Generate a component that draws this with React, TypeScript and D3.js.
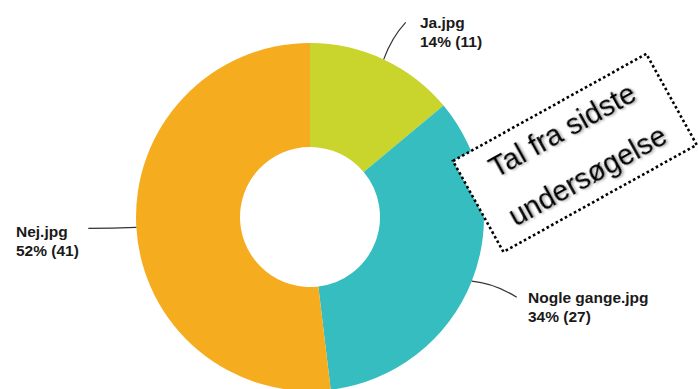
import React from "react";
import * as d3 from "d3";

const categories = ["Ja.jpg", "Nogle gange.jpg", "Nej.jpg"];
const counts = [11, 27, 41];
const percents = [14, 34, 52];
const colors = ["#C9D42C", "#35BDBF", "#F5AC1F"];
const noteLines = ["Tal fra sidste", "undersøgelse"];

const W = 698;
const H = 389;
const cx = 310;
const cy = 217;
const outerR = 174;
const innerR = 70;

// label layout: [end offset of leader from arc point, control offset, text x, text first baseline]
const labelLayout = [
  { end: [22, -37], ctrl: [8, -22], tx: 420, ty: 28 },
  { end: [45, 16], ctrl: [22, 2], tx: 528, ty: 303 },
  { end: [-48, 1], ctrl: [-24, 1], tx: 16, ty: 237 },
];

export default function App() {
  const data = categories.map((c, i) => ({ c, v: counts[i], p: percents[i], i }));
  const pie = d3
    .pie<any>()
    .sort(null)
    .value((d: any) => d.v)
    .startAngle(0)
    .endAngle(2 * Math.PI);
  const arcs = pie(data);
  const arcGen = d3.arc<any>().innerRadius(innerR).outerRadius(outerR);

  return (
    <svg
      width={W}
      height={H}
      style={{ position: "absolute", left: 0, top: 0, background: "#fff" }}
      fontFamily="'Liberation Sans', Arial, sans-serif"
    >
      <defs>
        <filter id="shadow" x="-10%" y="-10%" width="130%" height="130%">
          <feDropShadow dx="1.5" dy="1.5" stdDeviation="0.8" floodColor="#000" floodOpacity="0.35" />
        </filter>
      </defs>
      <g transform={`translate(${cx},${cy})`}>
        {arcs.map((a, i) => (
          <path key={i} d={arcGen(a) as string} fill={colors[i]} />
        ))}
      </g>
      {arcs.map((a, i) => {
        const mid = (a.startAngle + a.endAngle) / 2;
        const sx = cx + outerR * Math.sin(mid);
        const sy = cy - outerR * Math.cos(mid);
        const L = labelLayout[i];
        const ex = sx + L.end[0];
        const ey = sy + L.end[1];
        const qx = sx + L.ctrl[0];
        const qy = sy + L.ctrl[1];
        return (
          <g key={i}>
            <path
              d={`M${sx},${sy} Q${qx},${qy} ${ex},${ey}`}
              fill="none"
              stroke="#333"
              strokeWidth={1.2}
            />
            <text x={L.tx} y={L.ty} fontSize={15.5} fontWeight="bold" fill="#1a1a1a">
              {a.data.c}
            </text>
            <text x={L.tx} y={L.ty + 19} fontSize={15.5} fontWeight="bold" fill="#1a1a1a">
              {`${a.data.p}% (${a.data.v})`}
            </text>
          </g>
        );
      })}
      <g transform="translate(453,161) rotate(-29)">
        <rect
          x={0}
          y={0}
          width={221}
          height={104}
          fill="#fff"
          stroke="#000"
          strokeWidth={2.6}
          strokeDasharray="2.6 2.6"
        />
        {noteLines.map((t, i) => (
          <text
            key={i}
            x={110.5}
            y={36 + i * 52}
            textAnchor="middle"
            fontSize={29}
            fill="#000"
            filter="url(#shadow)"
          >
            {t}
          </text>
        ))}
      </g>
    </svg>
  );
}
